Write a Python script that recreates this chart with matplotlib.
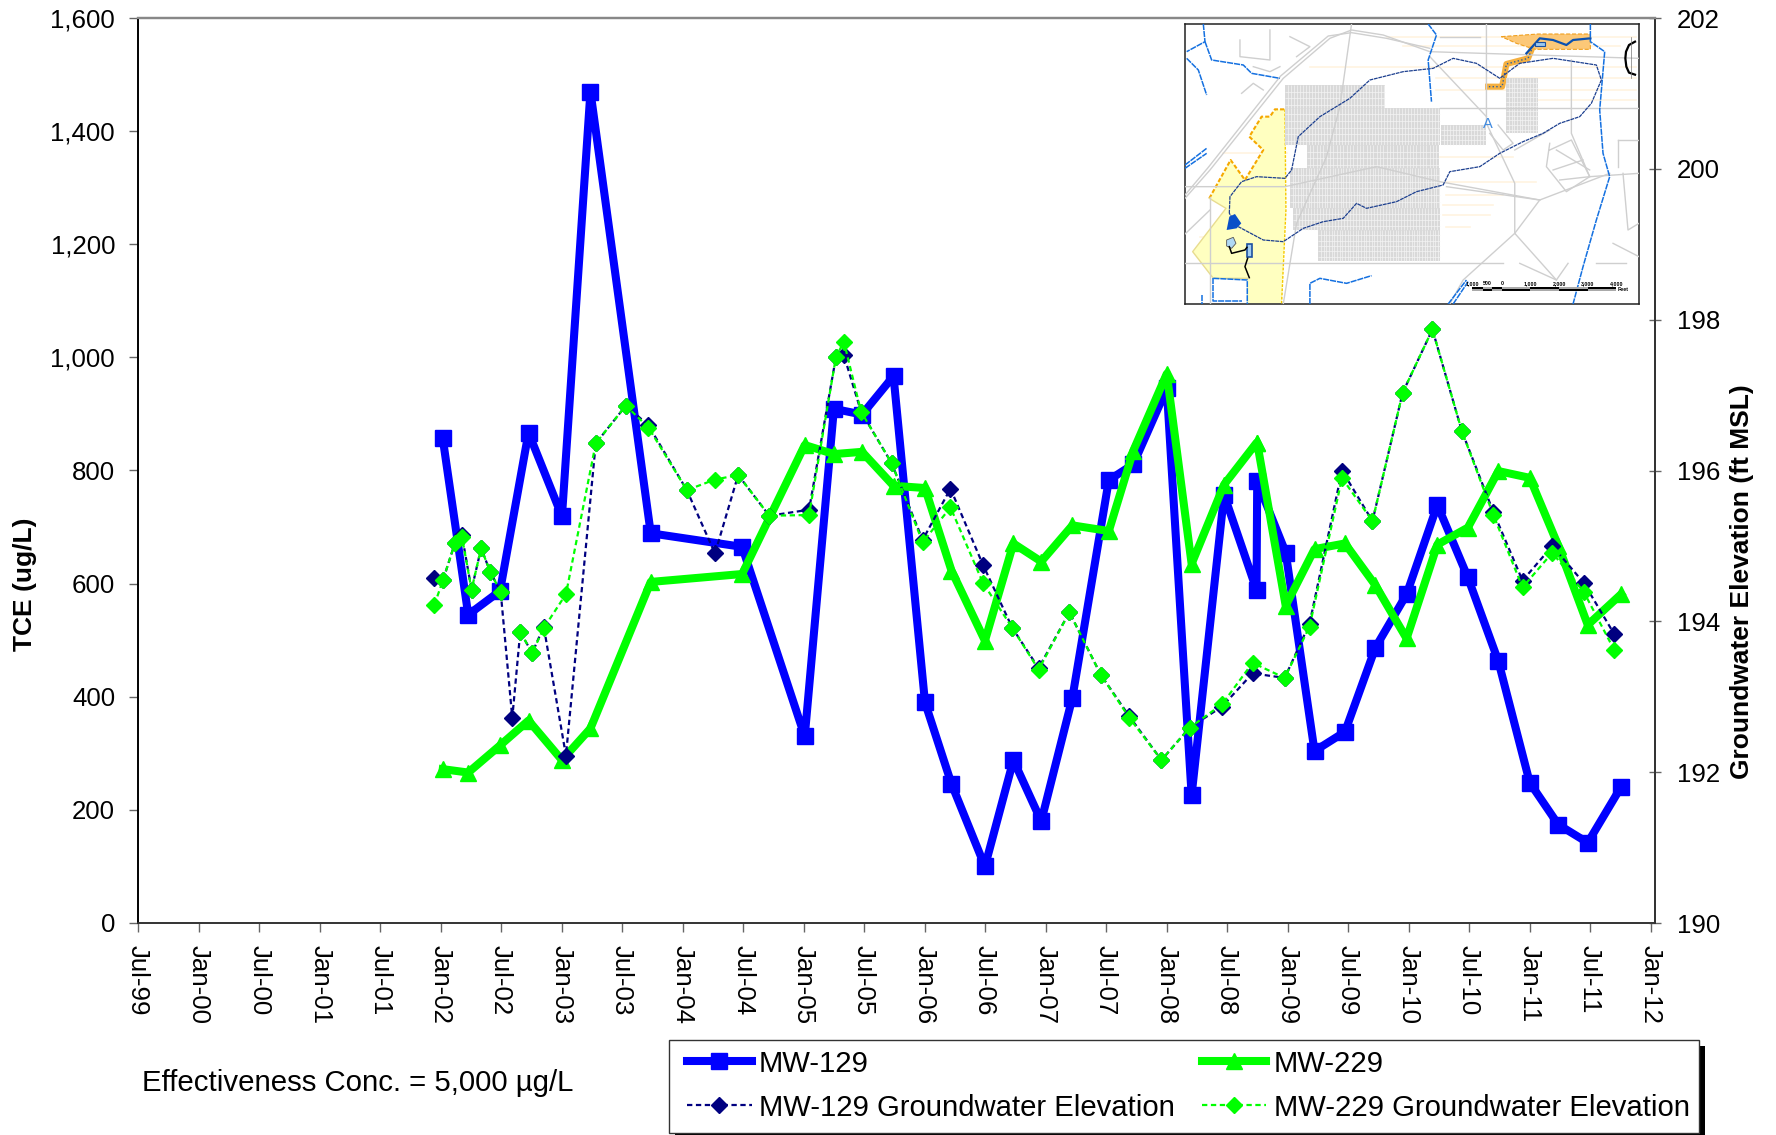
import numpy as np
import pandas as pd
import matplotlib
matplotlib.use("Agg")
import matplotlib.pyplot as plt
import matplotlib.dates as mdates
from matplotlib.patches import Polygon, Rectangle
from matplotlib.ticker import FuncFormatter

plt.rcParams['font.family'] = ['Liberation Sans', 'DejaVu Sans']

# TCE sampling events
tce_dates = ["2002-01-06", "2002-03-24", "2002-06-28", "2002-09-22", "2003-01-01", "2003-03-28",
             "2003-09-26", "2004-06-28", "2005-01-03", "2005-04-01", "2005-06-25", "2005-09-28",
             "2006-01-01", "2006-03-22", "2006-07-01", "2006-09-25", "2006-12-18", "2007-03-22",
             "2007-07-10", "2007-09-22", "2008-01-01", "2008-03-16", "2008-06-22", "2008-09-28",
             "2008-09-30", "2008-12-25", "2009-03-22", "2009-06-22", "2009-09-22", "2009-12-25",
             "2010-03-28", "2010-06-28", "2010-09-28", "2011-01-01", "2011-03-28", "2011-06-25",
             "2011-10-03"]
mw129_tce = [857, 545, 587, 867, 719, 1470, 689, 665, 330, 909, 899, 967, 390, 246, 100, 288, 180,
             398, 783, 811, 945, 226, 757, 589, 781, 655, 304, 338, 487, 581, 739, 611, 463, 248,
             174, 142, 240]
mw229_tce = [272, 266, 314, 358, 288, 344, 603, 617, 845, 829, 833, 773, 769, 623, 499, 671, 639,
             703, 693, 835, 971, 635, 775, 849, 849, 561, 661, 671, 597, 503, 669, 699, 799, 787,
             667, 527, 581]

# groundwater elevation events
gw_dates = ["2001-12-12", "2002-01-07", "2002-02-12", "2002-03-05", "2002-04-03", "2002-05-02",
            "2002-05-29", "2002-06-30", "2002-08-04", "2002-08-28", "2002-10-03", "2002-11-07",
            "2003-01-13", "2003-04-13", "2003-07-13", "2003-09-19", "2004-01-13", "2004-04-07",
            "2004-06-16", "2004-09-18", "2005-01-16", "2005-04-07", "2005-05-01", "2005-06-22",
            "2005-09-22", "2005-12-25", "2006-03-19", "2006-06-25", "2006-09-22", "2006-12-10",
            "2007-03-13", "2007-06-16", "2007-09-10", "2007-12-16", "2008-03-10", "2008-06-16",
            "2008-09-16", "2008-12-22", "2009-03-07", "2009-06-13", "2009-09-13", "2009-12-13",
            "2010-03-13", "2010-06-10", "2010-09-13", "2010-12-10", "2011-03-10", "2011-06-13",
            "2011-09-13"]
mw129_gw = [194.58, 194.55, 195.04, 195.14, 194.42, 194.97, 194.66, 194.39, 192.72, 193.86, 193.58,
            193.93, 192.22, 196.36, 196.86, 196.60, 195.74, 194.90, 195.94, 195.40, 195.48, 197.50,
            197.53, 196.78, 196.10, 195.08, 195.76, 194.75, 193.91, 193.38, 194.12, 193.29, 192.74,
            192.16, 192.59, 192.87, 193.31, 193.25, 193.97, 196.00, 195.33, 197.03, 197.87, 196.52,
            195.45, 194.54, 195.00, 194.51, 193.83]
mw229_gw = [194.22, 194.55, 195.04, 195.12, 194.42, 194.97, 194.66, 194.39, np.nan, 193.86, 193.58,
            193.91, 194.36, 196.36, 196.86, 196.57, 195.74, 195.88, 195.94, 195.40, 195.41, 197.50,
            197.71, 196.78, 196.10, 195.05, 195.51, 194.51, 193.91, 193.36, 194.12, 193.29, 192.72,
            192.16, 192.59, 192.90, 193.45, 193.25, 193.93, 195.90, 195.33, 197.03, 197.87, 196.52,
            195.41, 194.45, 194.91, 194.39, 193.62]

tce_ticks = [0, 200, 400, 600, 800, 1000, 1200, 1400, 1600]
gw_ticks = [190, 192, 194, 196, 198, 200, 202]
date_ticks = pd.date_range("1999-07-01", "2012-01-01", freq="6MS")

tce_x = mdates.date2num(pd.to_datetime(tce_dates))
gw_x = mdates.date2num(pd.to_datetime(gw_dates))

W, H = 1776, 1135
fig = plt.figure(figsize=(W / 100, H / 100), dpi=100)
ax = fig.add_axes([138 / W, 1 - 923 / H, (1655 - 138) / W, (923 - 18) / H])

ax.plot(tce_x, mw129_tce, color="#0000ff", lw=5.8, marker="s", ms=11, label="MW-129", zorder=3)
ax.plot(tce_x, mw229_tce, color="#00ff00", lw=5.8, marker="^", ms=11, label="MW-229", zorder=4)

ax.set_ylim(0, 1600)
ax.set_xlim(mdates.date2num(pd.Timestamp("1999-07-01")), mdates.date2num(pd.Timestamp("2012-01-14")))
ax.set_yticks(tce_ticks)
ax.yaxis.set_major_formatter(FuncFormatter(lambda v, p: f"{int(v):,}"))
ax.set_xticks(mdates.date2num(date_ticks))
ax.set_xticklabels([d.strftime("%b-%y") for d in date_ticks], rotation=-90, ha="center", va="top")
ax.tick_params(axis="both", labelsize=18.6, length=6.5, width=1, color="#666666", pad=9)
ax.tick_params(axis="y", pad=10)
ax.set_ylabel("TCE (ug/L)", fontsize=19, fontweight="bold", va="center")
ax.yaxis.set_label_coords(-0.0745, 0.374)

ax2 = ax.twinx()
dash = (2.4, 1.6)
ax2.plot(gw_x, mw129_gw, color="#000080", lw=1.6, dashes=dash, marker="D", ms=7.8,
         label="MW-129 Groundwater Elevation", zorder=5)
ax2.plot(gw_x, mw229_gw, color="#00ff00", lw=1.6, dashes=dash, marker="D", ms=7.8,
         label="MW-229 Groundwater Elevation", zorder=6)
ax2.set_ylim(190, 202)
ax2.set_yticks(gw_ticks)
ax2.tick_params(axis="y", labelsize=18.6, length=8, width=1, color="#666666", direction="inout", pad=12)
ax2.set_ylabel("Groundwater Elevation (ft MSL)", fontsize=19, fontweight="bold", rotation=90, va="center")
ax2.yaxis.set_label_coords(1.0574, 0.377)

for a in (ax, ax2):
    a.spines["top"].set_color("#888888")
    a.spines["top"].set_linewidth(1.6)
    a.spines["left"].set_linewidth(1.2)
    a.spines["bottom"].set_linewidth(1.2)
    a.spines["bottom"].set_color("#333333")
    a.spines["right"].set_linewidth(1.3)
    a.spines["right"].set_color("#333333")

fig.text(142 / W, 1 - 1083 / H, "Effectiveness Conc. = 5,000 µg/L", fontsize=21.2, va="center")

# legend box and its hard shadow are separate so the entries can sit further in
fig.add_artist(Rectangle((675 / W, 0), (1705 - 675) / W, (H - 1046) / H, transform=fig.transFigure,
                         fc="black", ec="none", zorder=20))
fig.add_artist(Rectangle((669 / W, 1 - 1133 / H), (1699 - 669) / W, (1133 - 1040) / H, transform=fig.transFigure,
                         fc="white", ec="#333333", lw=1, zorder=21))
h1, l1 = ax.get_legend_handles_labels()
h2, l2 = ax2.get_legend_handles_labels()
handles = [h1[0], h2[0], h1[1], h2[1]]
labels = [l1[0], l2[0], l1[1], l2[1]]
leg = fig.legend(handles, labels, ncol=2, mode="expand", loc="lower left",
                 bbox_to_anchor=(677 / W, 1 - 1132 / H, (1700 - 677) / W, (1132 - 1040) / H),
                 bbox_transform=fig.transFigure, fontsize=21.1, frameon=False, borderaxespad=0,
                 borderpad=0.35, handlelength=2.2, handletextpad=0.25, columnspacing=0.3, labelspacing=0.55)
leg.set_zorder(22)

# site map inset, drawn in the pixel space of the map crop
m = fig.add_axes([1185 / W, 1 - 304 / H, (1639 - 1185) / W, (304 - 24) / H], zorder=10)
m.set_xlim(45, 1408)
m.set_ylim(882, 42)
m.set_xticks([])
m.set_yticks([])
for s in m.spines.values():
    s.set_linewidth(1.1)
    s.set_color("#222222")

# faint parcel stripes
for y, x0, x1 in [(80, 650, 1400), (108, 700, 1350), (170, 420, 1400), (205, 800, 1400), (240, 800, 1400),
                  (270, 1100, 1400), (430, 160, 350), (440, 810, 1030), (515, 830, 1100), (555, 830, 1000),
                  (585, 820, 970), (615, 820, 960), (650, 830, 900), (680, 90, 340)]:
    m.plot([x0, x1], [y, y], color="#fff4e0", lw=1.2, zorder=1)

# site polygons
west = [(118, 565), (182, 450), (225, 510), (280, 420), (238, 380), (275, 320), (300, 320), (315, 298),
        (345, 298), (348, 600), (335, 880), (232, 880), (232, 805), (130, 805), (68, 725), (168, 595)]
m.add_patch(Polygon(west, closed=True, fc="#ffffc0", ec="none", zorder=2))
m.plot([118, 182, 225, 280, 238, 275, 300, 315, 345], [565, 450, 510, 420, 380, 320, 320, 298, 298],
       color="#f5a800", lw=1.5, ls=(0, (2, 1)), zorder=3)
m.plot([345, 348, 335], [298, 600, 880], color="#f5c800", lw=1, ls=(0, (2, 1)), zorder=3)
m.plot([118, 168, 68, 130, 232], [565, 595, 725, 805, 805], color="#e8dc90", lw=1, zorder=3)
east = [(995, 80), (1105, 72), (1262, 72), (1262, 118), (1095, 118), (1040, 100)]
m.add_patch(Polygon(east, closed=True, fc="#fcc878", ec="#f0a020", lw=0.8, ls="--", zorder=2))
m.plot([1085, 1075, 1010, 997, 955], [120, 145, 162, 230, 230], color="#f5b040", lw=4.4, zorder=3)
m.plot([1085, 1075, 1010, 997, 955], [120, 145, 162, 230, 230], color="#2a5fa0", lw=1, ls=":", zorder=4)

# housing blocks: grey fill crossed by white lots
blocks = [(345, 225, 300, 68, 9, 20), (345, 293, 465, 112, 9, 20), (410, 405, 398, 70, 10, 20),
          (360, 475, 450, 120, 8, 20), (370, 595, 440, 65, 9, 18), (445, 660, 365, 92, 8, 16),
          (1010, 205, 95, 165, 8, 14), (815, 345, 135, 60, 9, 15)]
for x0, y0, w, h, dx, dy in blocks:
    m.add_patch(Rectangle((x0, y0), w, h, fc="#d9d9d9", ec="none", zorder=3))
    m.vlines(np.arange(x0 + dx, x0 + w, dx), y0, y0 + h, color="#f6f6f6", lw=0.45, zorder=3)
    m.hlines(np.arange(y0 + dy, y0 + h, dy), x0, x0 + w, color="#f6f6f6", lw=0.45, zorder=3)

# arterial roads
roads = [[(45, 565), (120, 480), (340, 205), (480, 85), (545, 60), (640, 75), (780, 125), (1408, 145)],
         [(45, 555), (115, 472), (332, 198), (475, 78), (545, 68), (650, 85), (780, 115)],
         [(545, 42), (510, 290), (470, 440), (380, 640), (340, 882)],
         [(950, 42), (950, 340), (1035, 520), (1035, 670), (1160, 810)],
         [(1205, 150), (1205, 370), (1260, 500), (1408, 490)],
         [(45, 530), (345, 530), (620, 470), (810, 515), (1110, 570), (1320, 490)],
         [(780, 140), (950, 320)],
         [(1035, 670), (880, 810), (840, 882)],
         [(120, 560), (120, 882)], [(45, 758), (1000, 758)],
         [(810, 295), (1408, 295)], [(45, 672), (120, 600)],
         [(1140, 400), (1130, 470), (1190, 545), (1260, 500), (1205, 390), (1140, 420)],
         [(1110, 570), (1035, 670)], [(1345, 390), (1408, 390)], [(1330, 700), (1408, 740)],
         [(210, 90), (210, 140), (300, 150), (300, 60)], [(250, 170), (300, 185), (330, 170)],
         [(360, 80), (420, 110), (380, 140)], [(215, 250), (250, 220), (280, 240)], [(810, 80), (930, 80)],
         [(1280, 760), (1370, 760)], [(1050, 760), (1160, 810), (1195, 760)],
         [(960, 370), (1000, 420), (1030, 400), (985, 345)], [(1035, 420), (1140, 360)],
         [(1160, 420), (1260, 480)], [(1150, 480), (1240, 450)], [(1170, 510), (1260, 500)],
         [(830, 530), (1110, 570)], [(1345, 390), (1345, 470)], [(1360, 490), (1375, 660), (1408, 640)]]
for r in roads:
    xs, ys = zip(*r)
    m.plot(xs, ys, color="#cfcfcf", lw=1, zorder=3)

# creeks and canals
water = [[(100, 42), (105, 95), (50, 125)], [(105, 95), (125, 150), (220, 165), (245, 190), (330, 205)],
         [(50, 145), (85, 180), (110, 255)], [(775, 42), (800, 75), (775, 150), (785, 275)],
         [(1262, 42), (1262, 95), (1305, 125), (1290, 300), (1300, 430), (1320, 500), (1280, 630),
          (1240, 770), (1210, 882)],
         [(420, 882), (420, 820), (450, 805), (530, 820), (605, 797)], [(95, 855), (95, 882)],
         [(835, 882), (890, 810)], [(850, 882), (895, 815)], [(130, 805), (232, 810), (232, 882)],
         [(130, 805), (130, 872), (215, 872)], [(45, 465), (110, 415)], [(45, 475), (110, 430)]]
for r in water:
    xs, ys = zip(*r)
    m.plot(xs, ys, color="#1470e0", lw=1.1, ls=(0, (4, 0.6)), zorder=4)

# plume outline
plume = [(178, 610), (180, 560), (215, 515), (260, 500), (345, 505), (365, 480), (385, 380), (450, 320),
         (540, 265), (600, 210), (700, 185), (790, 175), (850, 145), (920, 160), (990, 205), (1050, 160),
         (1150, 145), (1280, 165), (1295, 210), (1265, 280), (1230, 320), (1170, 340), (1120, 370),
         (1060, 395), (990, 430), (930, 470), (840, 485), (820, 525), (740, 545), (680, 575), (590, 595),
         (560, 580), (520, 625), (460, 635), (400, 655), (340, 695), (280, 690), (205, 650), (178, 610)]
xs, ys = zip(*plume)
m.plot(xs, ys, color="#1c3f8f", lw=0.9, ls=(0, (3, 0.6)), zorder=5)

# treatment features
m.add_patch(Polygon([(178, 620), (195, 612), (214, 640), (200, 655), (170, 660)], closed=True, fc="#0a50c8", ec="none", zorder=6))
m.add_patch(Polygon([(170, 690), (190, 682), (198, 700), (185, 715), (170, 708)], closed=True, fc="#b0d8f4",
                    ec="#555555", lw=0.6, zorder=6))
m.add_patch(Rectangle((231, 703), 14, 38, fc="#a0ccf0", ec="#1c50a0", lw=1.2, zorder=6))
m.plot([178, 185, 225, 231], [710, 730, 720, 712], color="black", lw=1.1, zorder=6)
m.plot([233, 225, 238], [745, 770, 803], color="black", lw=1.1, zorder=6)
m.plot([1070, 1110, 1150, 1190, 1210, 1262], [130, 85, 90, 105, 90, 85], color="#0a50b0", lw=1.6, zorder=6)
m.add_patch(Rectangle((1095, 97), 30, 10, fc="#9cc8ee", ec="#1c50a0", lw=0.8, zorder=6))
m.text(955, 342, "A", color="#3f8ae0", fontsize=10.5, ha="center", va="center", zorder=7)

# north arrow
m.plot([1396, 1378, 1369, 1367, 1370, 1378, 1396], [95, 105, 125, 145, 170, 188, 194], color="black", lw=1.6, zorder=7)
m.plot([1385, 1385], [82, 205], color="#777777", lw=0.5, zorder=7)

# scale bar
bar_pos = [908, 940, 968, 996, 1082, 1168, 1254, 1340]
for i in range(len(bar_pos) - 1):
    c = "black" if i % 2 == 0 else "#aaaaaa"
    m.add_patch(Rectangle((bar_pos[i], 831), bar_pos[i + 1] - bar_pos[i], 6, fc=c, ec="none", zorder=7))
    c2 = "#aaaaaa" if i % 2 == 0 else "black"
    m.add_patch(Rectangle((bar_pos[i], 837), bar_pos[i + 1] - bar_pos[i], 6, fc=c2, ec="none", zorder=7))
for x, t in [(908, "1,000"), (952, "500"), (996, "0"), (1082, "1,000"), (1168, "2,000"), (1254, "3,000"), (1340, "4,000")]:
    m.text(x, 820, t, fontsize=3.8, fontweight="bold", ha="center", va="center", zorder=7)
m.text(1345, 838, "Feet", fontsize=3.8, fontweight="bold", va="center", zorder=7)

fig.savefig("out.png", dpi=100)
